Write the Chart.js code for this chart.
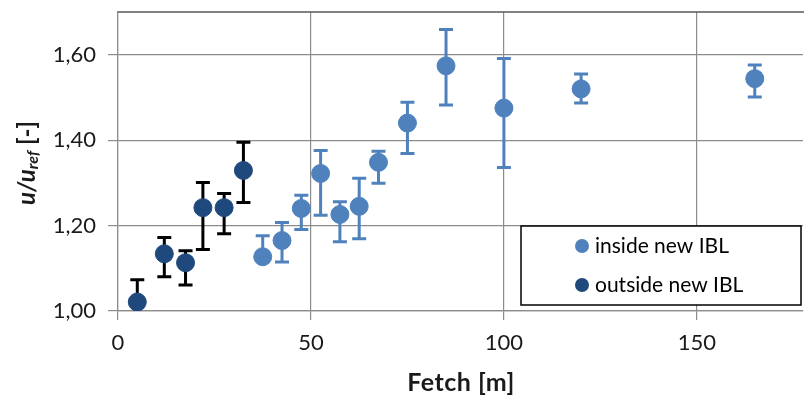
<!DOCTYPE html>
<html>
<head>
<meta charset="utf-8">
<script src="https://cdn.jsdelivr.net/npm/chart.js@4"></script>
<style>
  html, body { margin: 0; padding: 0; background: #fff; }
  canvas { display: block; }
</style>
</head>
<body>
<canvas id="fetchChart" width="804" height="396"></canvas>
<script>
// fetch [m] and normalised speed u/u_ref, with upper / lower error limits
const fetchOut = [5, 12, 17.5, 22, 27.5, 32.5];
const speedOut = [1.021, 1.134, 1.113, 1.242, 1.242, 1.329];
const upperOut = [1.073, 1.172, 1.141, 1.301, 1.275, 1.395];
const lowerOut = [0.970, 1.080, 1.061, 1.144, 1.181, 1.254];

const fetchIn = [37.5, 42.5, 47.5, 52.5, 57.5, 62.5, 67.5, 75, 85, 100, 120, 165];
const speedIn = [1.127, 1.165, 1.240, 1.322, 1.226, 1.245, 1.348, 1.440, 1.574, 1.475, 1.520, 1.544];
const upperIn = [1.176, 1.207, 1.271, 1.376, 1.256, 1.311, 1.374, 1.489, 1.659, 1.591, 1.555, 1.576];
const lowerIn = [1.127, 1.115, 1.191, 1.224, 1.162, 1.169, 1.299, 1.369, 1.482, 1.336, 1.487, 1.501];

const xTicks = [0, 50, 100, 150];
const yTicks = [1.0, 1.2, 1.4, 1.6];

const lightBlue = '#4F81BD';
const darkBlue = '#1F497D';
const FONT = 'Lato, "Liberation Sans", sans-serif';

function toPoints(xs, ys) {
    return xs.map((x, i) => ({ x: x, y: ys[i] }));
}

// whiskers drawn under the markers
const errorBars = {
    id: 'errorBars',
    beforeDatasetsDraw(chart) {
        const ctx = chart.ctx;
        const yScale = chart.scales.y;
        const area = chart.chartArea;
        ctx.save();
        ctx.beginPath();
        ctx.rect(area.left, area.top, area.right - area.left, area.bottom - area.top);
        ctx.clip();
        chart.data.datasets.forEach((ds, di) => {
            const meta = chart.getDatasetMeta(di);
            ctx.strokeStyle = ds.whiskerColor;
            ctx.lineWidth = 3;
            meta.data.forEach((pt, i) => {
                const x = pt.x;
                const yHi = yScale.getPixelForValue(ds.upper[i]);
                const yLo = yScale.getPixelForValue(ds.lower[i]);
                ctx.beginPath();
                ctx.moveTo(x, yHi);
                ctx.lineTo(x, yLo);
                ctx.moveTo(x - 7, yHi);
                ctx.lineTo(x + 7, yHi);
                if (ds.lower[i] < ds.data[i].y) {
                    ctx.moveTo(x - 7, yLo);
                    ctx.lineTo(x + 7, yLo);
                }
                ctx.stroke();
            });
        });
        ctx.restore();
    }
};

// top frame line, axis titles and the boxed legend
const decorations = {
    id: 'decorations',
    afterDraw(chart) {
        const ctx = chart.ctx;
        const area = chart.chartArea;
        ctx.save();

        ctx.strokeStyle = '#595959';
        ctx.lineWidth = 1.5;
        ctx.beginPath();
        ctx.moveTo(area.left, area.top);
        ctx.lineTo(chart.width, area.top);
        ctx.stroke();

        // x axis title
        ctx.fillStyle = '#1a1a1a';
        ctx.font = 'bold 25px ' + FONT;
        ctx.letterSpacing = '0.5px';
        ctx.textAlign = 'center';
        ctx.textBaseline = 'middle';
        ctx.fillText('Fetch [m]', 461, 383);
        ctx.letterSpacing = '0px';

        // y axis title: u/u_ref [-]
        ctx.translate(27, 163);
        ctx.rotate(-Math.PI / 2);
        const parts = [
            { t: 'u/u', f: 'italic bold 24px ' + FONT, dy: 0 },
            { t: 'ref', f: 'italic bold 16px ' + FONT, dy: 6 },
            { t: ' [-]', f: 'bold 24px ' + FONT, dy: 0 }
        ];
        let total = 0;
        parts.forEach(p => { ctx.font = p.f; p.w = ctx.measureText(p.t).width; total += p.w; });
        let cx = -total / 2;
        ctx.textAlign = 'left';
        parts.forEach(p => {
            ctx.font = p.f;
            ctx.fillText(p.t, cx, p.dy);
            cx += p.w;
        });
        ctx.setTransform(1, 0, 0, 1, 0, 0);

        // legend
        ctx.fillStyle = '#fff';
        ctx.fillRect(521, 226, 280, 79);
        ctx.strokeStyle = '#000';
        ctx.lineWidth = 1.5;
        ctx.strokeRect(521, 226, 280, 79);
        ctx.font = '21px ' + FONT;
        ctx.textBaseline = 'middle';
        chart.data.datasets.forEach((ds, i) => {
            const y = 246 + i * 39;
            ctx.fillStyle = ds.backgroundColor;
            ctx.beginPath();
            ctx.arc(582, y, 7, 0, Math.PI * 2);
            ctx.fill();
            ctx.fillStyle = '#000';
            ctx.fillText(ds.label, 595, y);
        });
        ctx.restore();
    }
};

const ctx = document.getElementById('fetchChart').getContext('2d');
const fetchChart = new Chart(ctx, {
    type: 'scatter',
    data: {
        datasets: [{
            label: 'inside new IBL',
            data: toPoints(fetchIn, speedIn),
            upper: upperIn,
            lower: lowerIn,
            whiskerColor: lightBlue,
            backgroundColor: lightBlue,
            borderColor: lightBlue,
            pointRadius: 9,
            pointHoverRadius: 9
        }, {
            label: 'outside new IBL',
            data: toPoints(fetchOut, speedOut),
            upper: upperOut,
            lower: lowerOut,
            whiskerColor: '#000',
            backgroundColor: darkBlue,
            borderColor: darkBlue,
            pointRadius: 9,
            pointHoverRadius: 9
        }]
    },
    options: {
        responsive: false,
        animation: false,
        layout: { autoPadding: false, padding: { top: 12, right: 1, left: 0, bottom: 0 } },
        plugins: {
            legend: { display: false },
            tooltip: { enabled: false }
        },
        scales: {
            x: {
                type: 'linear',
                min: 0,
                max: 177.5,
                afterBuildTicks: s => { s.ticks = xTicks.map(v => ({ value: v })); },
                afterFit: s => { s.height = 85; s.paddingLeft = 0; s.paddingRight = 0; },
                grid: { color: '#8c8c8c', lineWidth: 1.2, tickLength: 9 },
                border: { color: '#8c8c8c', width: 1.2 },
                ticks: {
                    color: '#1a1a1a',
                    font: { family: FONT, size: 22 },
                    padding: 10,
                    maxRotation: 0
                }
            },
            y: {
                min: 1.0,
                max: 1.7,
                afterBuildTicks: s => { s.ticks = yTicks.map(v => ({ value: v })); },
                afterFit: s => { s.width = 118; s.paddingTop = 0; s.paddingBottom = 0; },
                grid: { color: '#8c8c8c', lineWidth: 1.2, tickLength: 10 },
                border: { color: '#8c8c8c', width: 1.2 },
                ticks: {
                    color: '#1a1a1a',
                    font: { family: FONT, size: 22 },
                    padding: 12,
                    callback: v => v.toFixed(2).replace('.', ',')
                }
            }
        }
    },
    plugins: [errorBars, decorations]
});
</script>
</body>
</html>
